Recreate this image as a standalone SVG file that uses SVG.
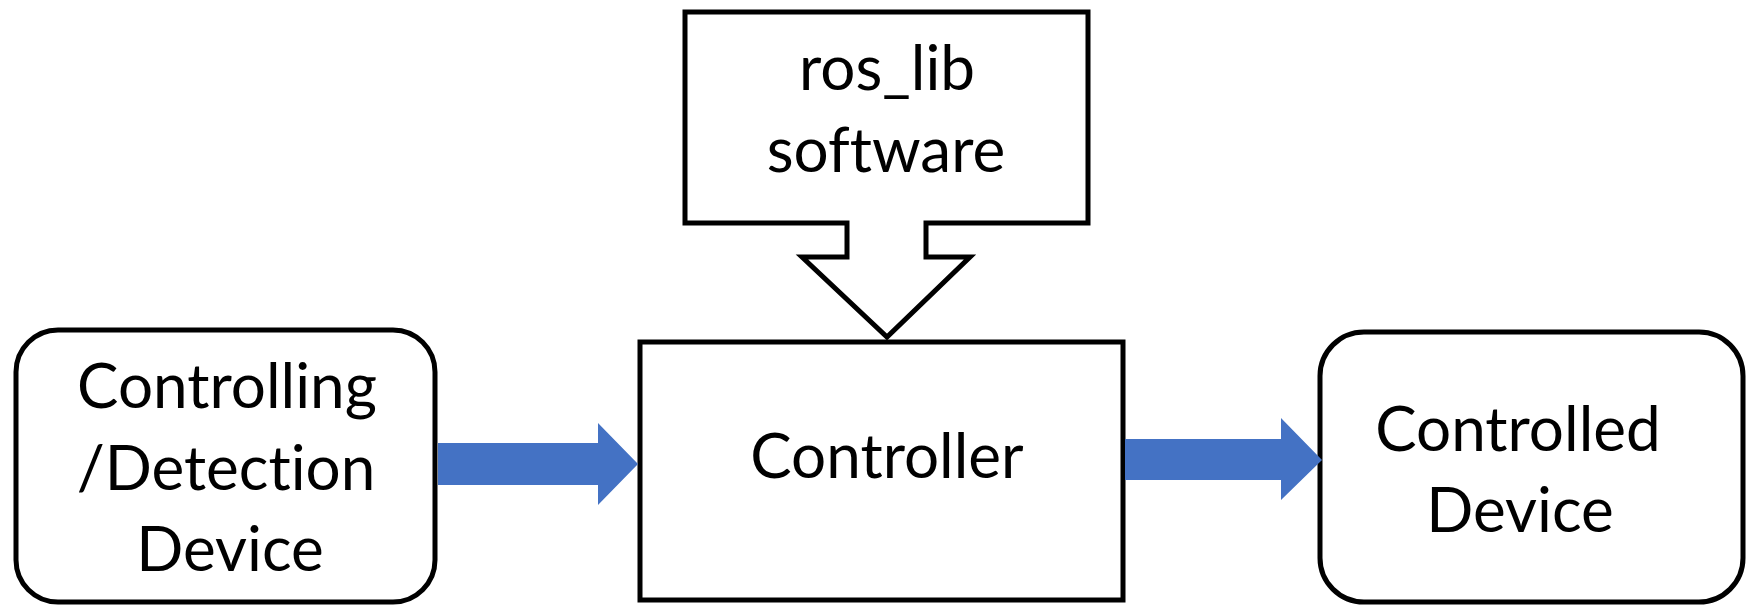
<svg xmlns="http://www.w3.org/2000/svg" width="1750" height="606" viewBox="0 0 1750 606">
  <style>
    .box { fill: #ffffff; stroke: #000000; stroke-width: 5; stroke-linejoin: miter; }
    .lbl { font-family: "Lato", "Open Sans", "Liberation Sans", sans-serif; font-size: 62px; fill: #000000; text-anchor: middle; font-variant-ligatures: none; font-feature-settings: "liga" 0; }
    .flow { fill: #4472C4; stroke: none; }
  </style>
  <rect width="1750" height="606" fill="#ffffff"/>

  <!-- input device -->
  <g id="detection-device">
    <rect class="box" x="16" y="330" width="419" height="272" rx="42" ry="42"/>
    <text class="lbl" x="227" y="408">Controlling</text>
    <text class="lbl" x="226" y="490">/Detection</text>
    <text class="lbl" x="230" y="571">Device</text>
  </g>

  <!-- software callout pointing down into the controller -->
  <g id="ros-lib">
    <path class="box" d="M685,12 H1088 V223 H926 V257 H970 L887,337 L802,257 H847 V223 H685 Z"/>
    <text class="lbl" x="887" y="90">ros_lib</text>
    <text class="lbl" x="886" y="172">software</text>
  </g>

  <g id="controller">
    <rect class="box" x="640" y="342" width="483" height="258"/>
    <text class="lbl" x="887" y="478">Controller</text>
  </g>

  <g id="controlled-device">
    <rect class="box" x="1320" y="332" width="423" height="270" rx="44" ry="44"/>
    <text class="lbl" x="1518" y="451">Controlled</text>
    <text class="lbl" x="1520" y="532">Device</text>
  </g>

  <!-- block arrows -->
  <g id="connectors">
    <path class="flow" d="M438,443 H598 V423 L638,464 L598,505 V485 H438 Z"/>
    <path class="flow" d="M1125,439 H1281 V418 L1322,460 L1281,500 V480 H1125 Z"/>
  </g>
</svg>
